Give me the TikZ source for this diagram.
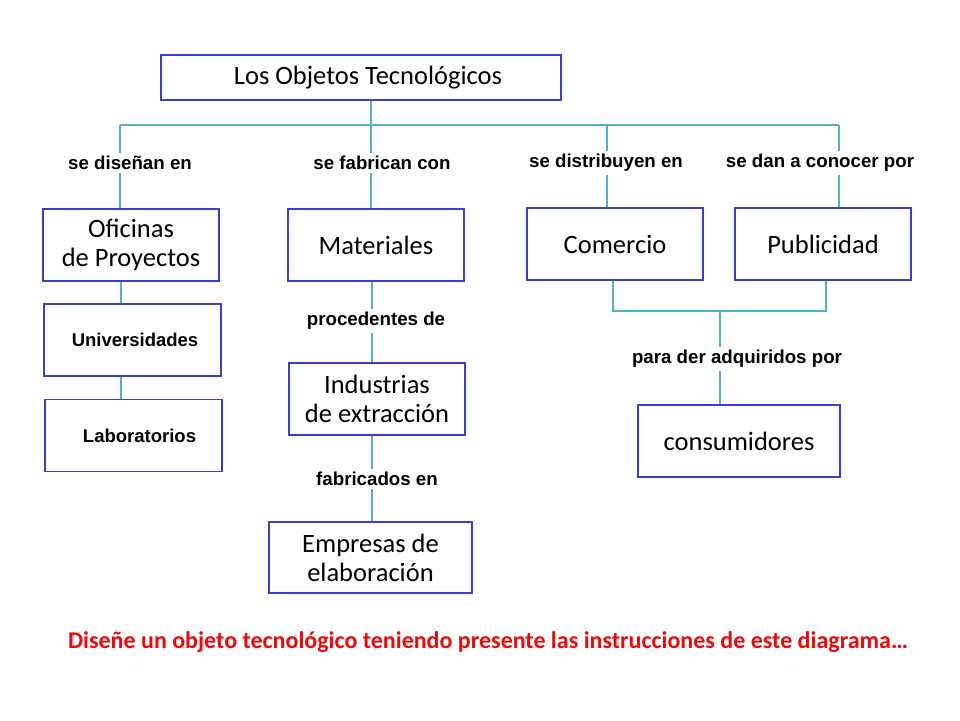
\documentclass[tikz,border=0pt]{standalone}
\usepackage{fontspec}
\usepackage{xcolor}
\setmainfont{Carlito}
\newfontfamily\labelfont{Liberation Sans}
\definecolor{boxblue}{RGB}{60,60,215}
\definecolor{linkblue}{RGB}{85,175,200}
\definecolor{notered}{RGB}{235,10,10}
\tikzset{
  concept/.style={draw=boxblue, line width=1.4pt, minimum width=176pt, minimum height=72pt, align=center, inner sep=0pt, font=\fontsize{26.5}{29}\selectfont},
  boldbox/.style={concept, font=\labelfont\bfseries\fontsize{18.5}{21}\selectfont},
  link/.style={draw=linkblue, line width=2.2pt},
  verb/.style={fill=white, inner sep=3pt, font=\labelfont\bfseries\fontsize{18.7}{22}\selectfont}
}

\begin{document}
\begin{tikzpicture}[x=1pt,y=-1pt]
\useasboundingbox (0,0) rectangle (960,720);
\node[concept, minimum width=400pt, minimum height=45pt] (top) at (361,77.5) {\hspace{14pt}Los Objetos Tecnológicos};
\node[concept] (ofi) at (131,245) {Oficinas\\de Proyectos};
\node[boldbox, minimum width=177pt] (uni) at (132.5,340) {\hspace{5pt}Universidades};
\node[boldbox, minimum width=177pt] (lab) at (133.5,435.5) {\hspace{12pt}Laboratorios};
\node[concept] (mat) at (376,245) {Materiales};
\node[concept] (ind) at (377,399) {Industrias\\de extracción};
\node[concept, minimum width=203pt, minimum height=71pt] (emp) at (370.5,557.5) {Empresas de\\elaboración};
\node[concept] (com) at (615,244) {Comercio};
\node[concept] (pub) at (823,244) {Publicidad};
\node[concept, minimum width=202pt] (cons) at (739,441) {consumidores};

% top bus
\coordinate (busL) at (120,125);
\coordinate (busR) at (839,125);
\coordinate (busM) at (371,125);
\draw[link] (busL) -- (busR);
\draw[link] (busM |- top.south) -- (busM);
\foreach \bx/\lx/\dest/\txt in {120/130/ofi/se diseñan en, 371/382/mat/se fabrican con, 607/606/com/se distribuyen en, 839/820/pub/se dan a conocer por}{
\coordinate (b) at (\bx,125);
\draw[link] (b) -- (b |- \dest.north);
\node[verb] at (\lx,163) {\txt};
}

% left column
\coordinate (colL) at (121,0);
\draw[link] (colL |- ofi.south) -- (colL |- uni.north);
\draw[link] (colL |- uni.south) -- (colL |- lab.north);

% middle column
\coordinate (colM) at (372,0);
\draw[link] (colM |- mat.south) -- (colM |- ind.north);
\node[verb] (proc) at (376,321) {procedentes de};
\draw[link] (colM |- ind.south) -- (colM |- emp.north);
\node[verb] (fabr) at (377,479) {fabricados en};

% right merge
\coordinate (cL) at (613,311);
\coordinate (cR) at (826,311);
\coordinate (cM) at (720,311);
\draw[link] (cL |- com.south) -- (cL) -- (cR) -- (cR |- pub.south);
\draw[link] (cM) -- (cM |- cons.north);
\node[verb] (adq) at (737,359) {para der adquiridos por};

\node[text=notered, font=\bfseries\fontsize{24}{28}\selectfont] (note) at (488,642) {Diseñe un objeto tecnológico teniendo presente las instrucciones de este diagrama\ldots};
\end{tikzpicture}
\end{document}
